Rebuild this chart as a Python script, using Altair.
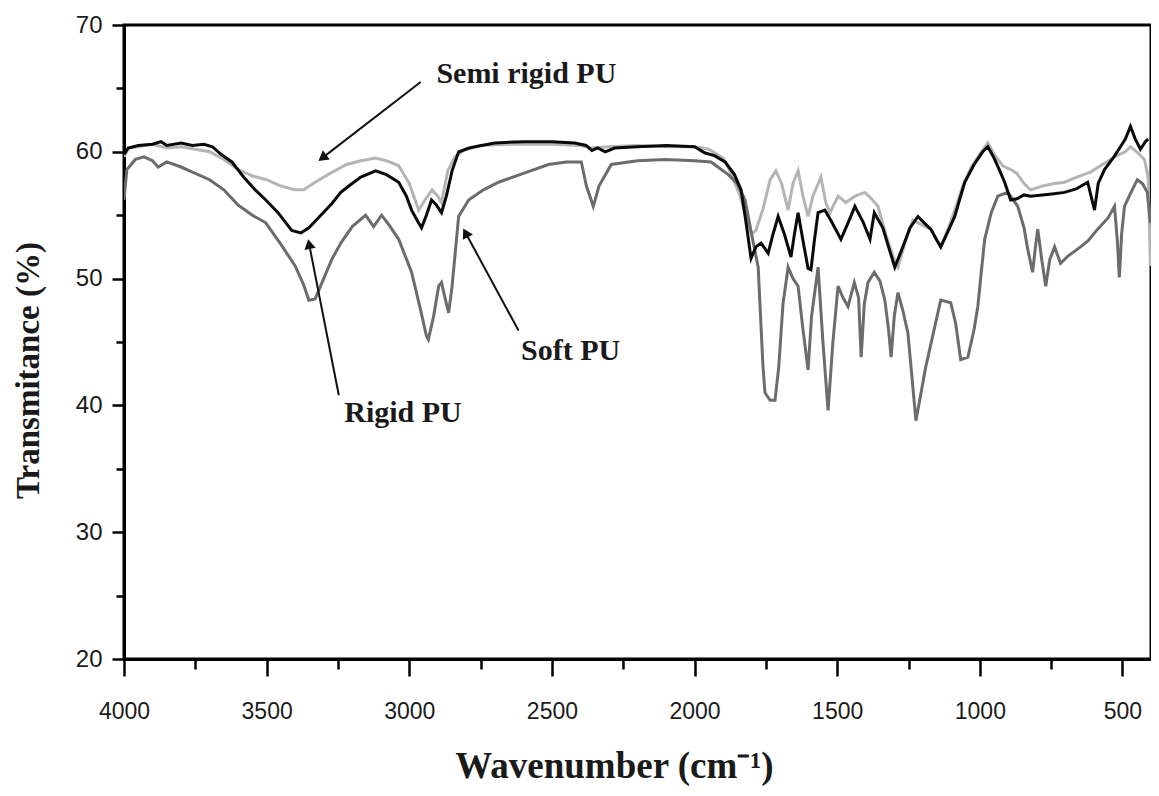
import altair as alt
import pandas as pd
import numpy as np

# ---------------- data ----------------
semi_wn = [4000, 3985, 3950, 3900, 3850, 3800, 3750, 3700, 3650, 3600, 3550, 3500, 3450, 3400, 3370,
           3330, 3270, 3220, 3170, 3118, 3080, 3037, 3000, 2967, 2945, 2920, 2900, 2887, 2865, 2840,
           2803, 2750, 2650, 2500, 2400, 2360, 2300, 2200, 2100, 2000, 1950, 1900, 1872, 1840, 1815,
           1800, 1785, 1760, 1735, 1715, 1695, 1672, 1655, 1637, 1620, 1602, 1585, 1557, 1540, 1525,
           1497, 1470, 1438, 1403, 1380, 1357, 1330, 1300, 1287, 1260, 1235, 1200, 1172, 1150, 1137,
           1110, 1088, 1060, 1030, 1000, 972, 950, 920, 892, 870, 845, 822, 780, 740, 703,
           660, 612, 570, 528, 490, 472, 450, 423, 410, 402]
semi_t = [59.6, 60.3, 60.4, 60.6, 60.3, 60.4, 60.2, 60.0, 59.4, 58.6, 58.1, 57.8, 57.3, 57.0, 57.0,
          57.6, 58.4, 59.0, 59.3, 59.5, 59.3, 58.9, 57.5, 55.4, 56.2, 57.0, 56.5, 56.0, 58.5, 59.6,
          60.2, 60.5, 60.6, 60.6, 60.5, 60.3, 60.4, 60.5, 60.4, 60.4, 60.2, 59.5, 58.3, 56.5, 54.5,
          53.5, 53.8, 55.5, 57.8, 58.5, 57.5, 55.4, 57.5, 58.5, 56.5, 54.9, 56.5, 58.0, 56.0, 55.2,
          56.5, 56.0, 56.5, 56.8, 56.3, 55.7, 53.5, 51.5, 50.9, 53.0, 54.6, 54.2, 53.9, 53.0, 52.5,
          54.0, 55.4, 57.3, 58.8, 59.8, 60.7, 59.8, 58.9, 58.6, 58.3, 57.5, 57.0, 57.3, 57.5, 57.6,
          58.0, 58.4, 59.0, 59.6, 60.0, 60.4, 60.0, 59.4, 58.0, 51.0]

rigid_wn = [4000, 3985, 3950, 3900, 3870, 3850, 3800, 3760, 3720, 3690, 3660, 3622, 3580, 3540, 3503,
            3460, 3412, 3380, 3352, 3310, 3272, 3240, 3212, 3170, 3118, 3080, 3037, 3010, 2992, 2970,
            2957, 2940, 2922, 2905, 2887, 2870, 2850, 2827, 2790, 2747, 2700, 2600, 2500, 2420, 2380,
            2360, 2340, 2313, 2280, 2200, 2100, 2000, 1963, 1930, 1893, 1860, 1837, 1820, 1802, 1785,
            1767, 1742, 1725, 1707, 1685, 1662, 1650, 1637, 1620, 1602, 1592, 1580, 1567, 1543, 1520,
            1487, 1460, 1438, 1410, 1385, 1370, 1340, 1320, 1298, 1270, 1245, 1217, 1195, 1172, 1150,
            1137, 1110, 1088, 1070, 1053, 1020, 990, 972, 950, 930, 913, 892, 870, 845, 822,
            780, 740, 703, 660, 622, 598, 585, 563, 530, 507, 490, 472, 455, 437, 420, 410]
rigid_t = [59.8, 60.3, 60.5, 60.6, 60.8, 60.5, 60.7, 60.5, 60.6, 60.4, 59.8, 59.2, 58.0, 57.0, 56.2,
           55.2, 53.8, 53.6, 54.0, 55.0, 55.9, 56.8, 57.3, 58.0, 58.5, 58.2, 57.6, 56.5, 55.4, 54.5,
           54.0, 55.0, 56.2, 55.8, 55.2, 56.5, 58.5, 60.0, 60.3, 60.5, 60.7, 60.8, 60.8, 60.7, 60.5,
           60.1, 60.3, 60.0, 60.3, 60.4, 60.5, 60.4, 59.9, 59.7, 59.2, 58.2, 57.0, 54.5, 51.6, 52.5,
           52.8, 52.0, 53.5, 54.9, 53.5, 51.7, 53.5, 55.2, 53.0, 50.8, 50.7, 53.0, 55.2, 55.4, 54.5,
           53.1, 54.5, 55.7, 54.5, 53.1, 55.2, 54.0, 52.5, 50.9, 52.5, 54.0, 54.9, 54.4, 53.9, 53.0,
           52.5, 53.8, 54.9, 56.3, 57.6, 59.0, 60.0, 60.4, 59.5, 58.5, 57.6, 56.2, 56.3, 56.6, 56.5,
           56.6, 56.7, 56.8, 57.1, 57.6, 55.4, 57.5, 58.6, 59.6, 60.4, 61.0, 62.0, 61.0, 60.2, 60.8, 61.0]

soft_wn = [4000, 3990, 3960, 3930, 3900, 3880, 3850, 3800, 3760, 3700, 3650, 3600, 3550, 3503, 3450,
           3400, 3370, 3352, 3330, 3300, 3272, 3240, 3200, 3153, 3125, 3097, 3070, 3037, 2992, 2960,
           2940, 2933, 2915, 2897, 2887, 2875, 2862, 2850, 2827, 2792, 2740, 2687, 2600, 2512, 2450,
           2397, 2379, 2355, 2335, 2292, 2200, 2103, 2000, 1942, 1882, 1850, 1823, 1800, 1777, 1760,
           1753, 1735, 1718, 1705, 1690, 1672, 1655, 1637, 1620, 1602, 1590, 1567, 1550, 1532, 1515,
           1497, 1480, 1462, 1440, 1425, 1416, 1405, 1392, 1370, 1350, 1333, 1320, 1311, 1300, 1287,
           1270, 1252, 1235, 1224, 1210, 1190, 1165, 1137, 1102, 1085, 1067, 1042, 1020, 1007, 995,
           983, 960, 937, 902, 867, 845, 832, 815, 805, 797, 783, 769, 755, 738, 717,
           690, 647, 620, 587, 550, 528, 518, 511, 503, 493, 470, 448, 430, 413, 402]
soft_t = [56.2, 58.6, 59.4, 59.6, 59.3, 58.8, 59.2, 58.8, 58.4, 57.8, 57.0, 55.8, 55.0, 54.4, 52.7,
          51.0, 49.5, 48.3, 48.4, 50.0, 51.5, 52.8, 54.1, 55.0, 54.1, 55.0, 54.2, 53.1, 50.5, 47.5,
          45.5, 45.2, 47.0, 49.4, 49.7, 48.5, 47.3, 49.4, 54.9, 56.2, 57.0, 57.6, 58.3, 59.0, 59.2,
          59.2, 57.3, 55.7, 57.3, 59.0, 59.3, 59.4, 59.3, 59.2, 58.2, 57.5, 56.2, 53.5, 50.9, 43.0,
          41.0, 40.4, 40.4, 43.0, 48.0, 50.9, 50.0, 49.4, 46.0, 42.8, 47.0, 50.9, 45.0, 39.6, 45.0,
          49.4, 48.5, 47.8, 49.7, 48.5, 43.8, 48.0, 49.7, 50.5, 49.8, 48.3, 46.0, 43.8, 47.0, 48.9,
          47.5, 45.7, 41.5, 38.8, 40.5, 43.0, 45.5, 48.3, 48.1, 46.5, 43.6, 43.8, 46.0, 47.8, 50.5,
          53.1, 55.2, 56.5, 56.8, 55.7, 54.0, 52.3, 50.5, 52.5, 53.9, 51.5, 49.4, 51.5, 52.5, 51.2,
          51.8, 52.5, 53.0, 53.9, 54.8, 55.7, 53.0, 50.1, 53.5, 55.7, 56.8, 57.8, 57.5, 56.8, 54.4]

series_names = ["Semi rigid PU", "Soft PU", "Rigid PU"]
series_colors = ["#b5b5b5", "#6c6c6c", "#0a0a0a"]

x_ticks = [4000, 3750, 3500, 3250, 3000, 2750, 2500, 2250, 2000, 1750, 1500, 1250, 1000, 750, 500]
y_ticks = [20, 25, 30, 35, 40, 45, 50, 55, 60, 65, 70]

# annotations: label, label position, arrow tail, arrow head
ann_label = ["Semi rigid PU", "Rigid PU", "Soft PU"]
ann_lx = [2905, 3228, 2608]
ann_ly = [66.1, 39.4, 44.3]
arr_x1 = [2960, 3247, 2617]
arr_y1 = [65.5, 40.8, 45.9]
arr_x2 = [3300, 3350, 2800]
arr_y2 = [59.6, 52.6, 53.5]

# ---------------- build tables ----------------
frames = []
for name, wn, t in [("Semi rigid PU", semi_wn, semi_t), ("Soft PU", soft_wn, soft_t),
                    ("Rigid PU", rigid_wn, rigid_t)]:
    frames.append(pd.DataFrame({"series": name, "wn": wn, "T": t, "idx": range(len(wn))}))

W, H = 1027, 634
XMIN, XMAX, YMIN, YMAX = 400, 4000, 20, 70
px_x = W / (XMAX - XMIN)
px_y = H / (YMAX - YMIN)

dx = -(np.array(arr_x2) - np.array(arr_x1)) * px_x
dy = -(np.array(arr_y2) - np.array(arr_y1)) * px_y
angles = (np.degrees(np.arctan2(dx, -dy)) + 360) % 360

arrows = pd.DataFrame({"wn": arr_x1, "T": arr_y1, "x2": arr_x2, "y2": arr_y2,
                       "angle": angles})
heads = pd.DataFrame({"wn": arr_x2, "T": arr_y2, "angle": angles})
labels = pd.DataFrame({"label": ann_label, "wn": ann_lx, "T": ann_ly})

xscale = alt.Scale(domain=[XMIN, XMAX], reverse=True, nice=False, zero=False)
yscale = alt.Scale(domain=[YMIN, YMAX], nice=False, zero=False)

x_axis = alt.Axis(
    values=x_ticks, format="d", grid=False, labelFlush=False,
    labelExpr="datum.value % 500 === 0 ? datum.label : ''",
    labelFont="Liberation Sans", labelFontSize=23, labelColor="#1a1a1a", labelPadding=24,
    tickSize=17, tickWidth=2.5, tickColor="black",
    tickDash={"condition": {"test": "datum.value % 500 !== 0", "value": [10, 40]}, "value": [40, 1]},
    domainColor="black", domainWidth=3,
    title="Wavenumber (cm\u207b\u00b9)", titleFont="Liberation Serif", titleFontSize=37,
    titleFontWeight="bold", titleColor="#1a1a1a",
    titleX=490, titleY=107, titleAlign="center", titleBaseline="middle",
)
y_axis = alt.Axis(
    values=y_ticks, grid=False,
    labelExpr="datum.value % 10 === 0 ? datum.label : ''",
    labelFont="Liberation Sans", labelFontSize=24, labelColor="#1a1a1a", labelPadding=10,
    tickSize=12, tickWidth=2.5, tickColor="black",
    tickDash={"condition": {"test": "datum.value % 10 !== 0", "value": [8, 40]}, "value": [40, 1]},
    domainColor="black", domainWidth=3,
    title="Transmitance (%)", titleFont="Liberation Serif", titleFontSize=33,
    titleFontWeight="bold", titleColor="#1a1a1a",
    titleX=-96, titleY=345, titleAlign="center", titleBaseline="middle",
)

X = alt.X("wn:Q", scale=xscale, axis=x_axis)
Y = alt.Y("T:Q", scale=yscale, axis=y_axis)

layers = []
for i, (name, col) in enumerate(zip(series_names, series_colors)):
    layers.append(
        alt.Chart(frames[i]).mark_line(color=col, strokeWidth=3, clip=True).encode(
            x=X, y=Y, order="idx:Q",
        )
    )

arrow_lines = alt.Chart(arrows).mark_rule(color="#111", strokeWidth=2).encode(
    x=X, y=Y, x2="x2:Q", y2="y2:Q",
)
arrow_heads = alt.Chart(heads).mark_point(shape="triangle", filled=True, color="#111",
                                          size=130, opacity=1).encode(
    x=X, y=Y, angle=alt.Angle("angle:Q", scale=None),
)
texts = alt.Chart(labels).mark_text(align="left", baseline="middle", font="Liberation Serif",
                                    fontSize=30, fontWeight="bold", color="#1a1a1a").encode(
    x=X, y=Y, text="label:N",
)

chart = alt.layer(*layers, arrow_lines, arrow_heads, texts).properties(
    width=W, height=H,
    autosize=alt.AutoSizeParams(type="none"),
    padding={"left": 116, "top": 17, "right": 0, "bottom": 128},
).configure(background="white").configure_view(stroke="black", strokeWidth=3)

chart.save("out.html", embed_options={"renderer": "svg", "actions": False})
